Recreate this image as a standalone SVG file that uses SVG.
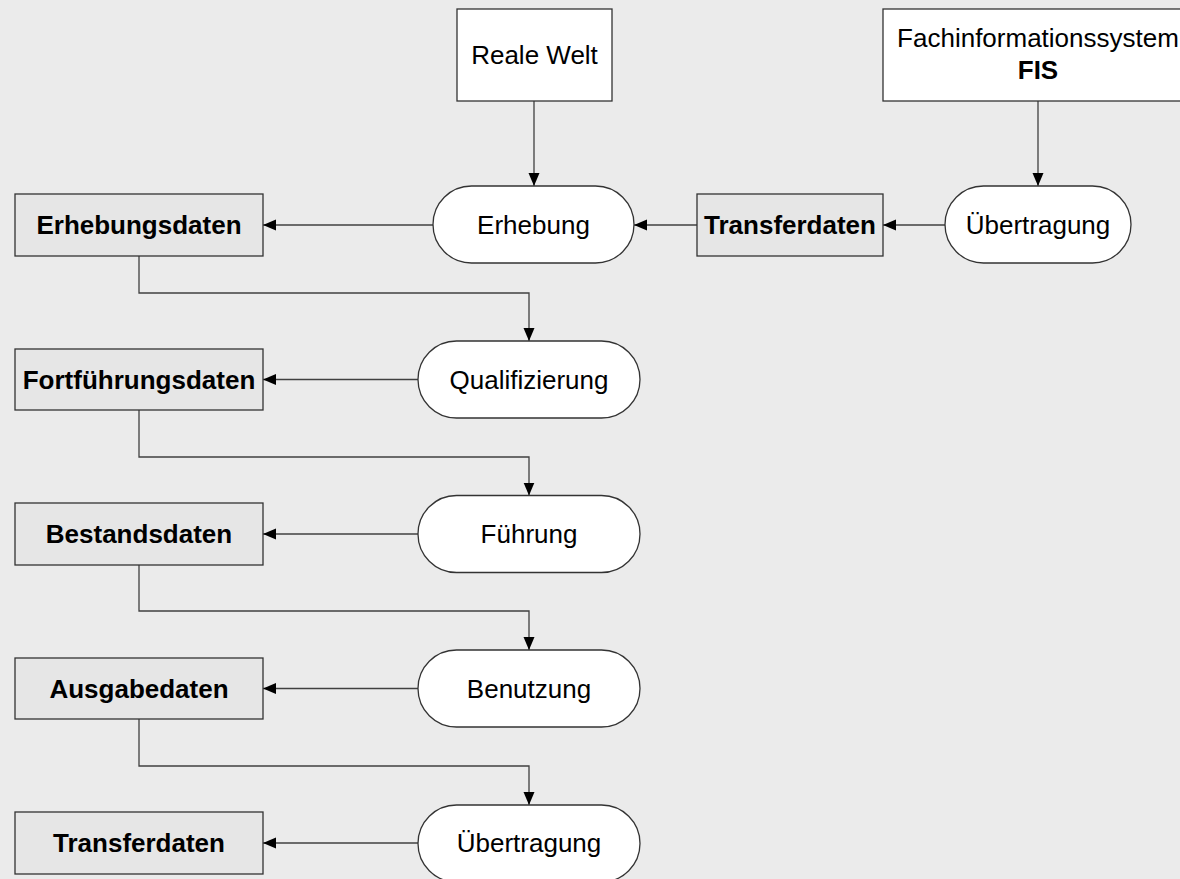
<svg xmlns="http://www.w3.org/2000/svg" width="1180" height="879" viewBox="0 0 1180 879">
<style>
.bg{fill:#ebebeb}
.w{fill:#ffffff;stroke:#333333;stroke-width:1.3}
.g{fill:#e6e6e6;stroke:#333333;stroke-width:1.3}
.c{fill:none;stroke:#404040;stroke-width:1.3}
text{font-family:"Liberation Sans",Arial,sans-serif;font-size:26px;fill:#000;text-anchor:middle}
.b{font-weight:bold}
</style>
<defs>
<marker id="ah" markerUnits="userSpaceOnUse" markerWidth="14" markerHeight="12" refX="13" refY="5.5" orient="auto">
<path d="M0,0 L13,5.5 L0,11 Z" fill="#000"/>
</marker>
</defs>
<rect class="bg" x="0" y="0" width="1180" height="879"/>
<g id="connectors">
<path class="c" d="M534,101 V186" marker-end="url(#ah)"/>
<path class="c" d="M1038,101 V186" marker-end="url(#ah)"/>
<path class="c" d="M945,225 H883" marker-end="url(#ah)"/>
<path class="c" d="M697,225 H634" marker-end="url(#ah)"/>
<path class="c" d="M433,225 H263" marker-end="url(#ah)"/>
<path class="c" d="M139,256 V293 H529 V341" marker-end="url(#ah)"/>
<path class="c" d="M418,379.5 H263" marker-end="url(#ah)"/>
<path class="c" d="M139,410 V457 H529 V495.5" marker-end="url(#ah)"/>
<path class="c" d="M418,534 H263" marker-end="url(#ah)"/>
<path class="c" d="M139,565 V611 H529 V650" marker-end="url(#ah)"/>
<path class="c" d="M418,688.5 H263" marker-end="url(#ah)"/>
<path class="c" d="M139,719 V766 H529 V805" marker-end="url(#ah)"/>
<path class="c" d="M418,843 H263" marker-end="url(#ah)"/>
</g>
<g id="reale-welt"><rect class="w" x="457" y="9" width="155" height="92"/><text x="534.5" y="64">Reale Welt</text></g>
<g id="fis"><rect class="w" x="883" y="9" width="320" height="92"/><text x="1038" y="47">Fachinformationssystem</text><text class="b" x="1038" y="79">FIS</text></g>
<g id="erhebung"><rect class="w" x="433" y="186" width="201" height="77" rx="38.5"/><text x="533.5" y="233.5">Erhebung</text></g>
<g id="transferdaten-top"><rect class="g" x="697" y="194" width="186" height="62"/><text class="b" x="790" y="234">Transferdaten</text></g>
<g id="uebertragung-top"><rect class="w" x="945" y="186" width="186" height="77" rx="38.5"/><text x="1038" y="233.5">Übertragung</text></g>
<g id="erhebungsdaten"><rect class="g" x="15" y="194" width="248" height="62"/><text class="b" x="139" y="234">Erhebungsdaten</text></g>
<g id="fortfuehrungsdaten"><rect class="g" x="15" y="349" width="248" height="61"/><text class="b" x="139" y="388.5">Fortführungsdaten</text></g>
<g id="qualifizierung"><rect class="w" x="418" y="341" width="222" height="77" rx="38.5"/><text x="529" y="388.5">Qualifizierung</text></g>
<g id="bestandsdaten"><rect class="g" x="15" y="503" width="248" height="62"/><text class="b" x="139" y="543">Bestandsdaten</text></g>
<g id="fuehrung"><rect class="w" x="418" y="495.5" width="222" height="77" rx="38.5"/><text x="529" y="543">Führung</text></g>
<g id="ausgabedaten"><rect class="g" x="15" y="658" width="248" height="61"/><text class="b" x="139" y="697.5">Ausgabedaten</text></g>
<g id="benutzung"><rect class="w" x="418" y="650" width="222" height="77" rx="38.5"/><text x="529" y="697.5">Benutzung</text></g>
<g id="transferdaten-bottom"><rect class="g" x="15" y="812" width="248" height="62"/><text class="b" x="139" y="852">Transferdaten</text></g>
<g id="uebertragung-bottom"><rect class="w" x="418" y="805" width="222" height="77" rx="38.5"/><text x="529" y="852">Übertragung</text></g>
</svg>
